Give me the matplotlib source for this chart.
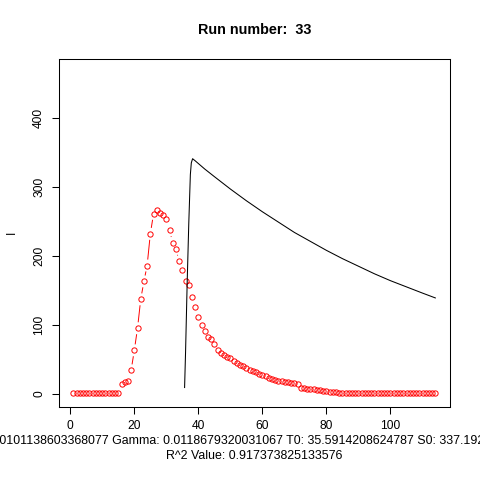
import numpy as np
import matplotlib
matplotlib.use("Agg")
import matplotlib.pyplot as plt
from matplotlib.collections import LineCollection

plt.rcParams['font.family'] = ['Liberation Sans', 'DejaVu Sans']

# ---- data ----
days = np.arange(1, 115)
observed_I = [
    1, 1, 1, 1, 1, 1, 1, 1, 1, 1, 1, 1, 1, 1, 1,
    14, 17, 19, 34, 63, 95, 137, 163, 186, 232,
    261, 267, 262, 260, 254, 237, 219, 210, 192, 180,
    164, 158, 141, 126, 112, 100, 91, 83, 79, 72,
    64, 59, 56, 54, 52, 48, 45, 42, 40, 37,
    35, 33, 31, 29, 27, 25, 23, 22, 20, 19,
    18, 17, 16.5, 16, 15, 14, 9, 8, 7.5, 7,
    7, 6, 5, 4.5, 4, 3, 2, 2, 1.5, 1,
    1, 1, 1, 1, 1, 1, 1, 1, 1, 1,
    1, 1, 1, 1, 1, 1, 1, 1, 1, 1,
    1, 1, 1, 1, 1, 1, 1, 1, 1,
]
model_t = [35.7, 36.0, 36.5, 37.0, 37.5, 37.8, 38.2, 39, 40, 42, 45, 50, 55, 60,
           65, 70, 75, 80, 85, 90, 95, 100, 105, 110, 114]
model_I = [9, 60, 160, 246, 318, 335, 341, 338, 334, 326, 315, 297, 280, 264,
           249, 234, 221, 208, 196, 185, 174, 164, 155, 146, 139]

x_ticks = [0, 20, 40, 60, 80, 100]
y_ticks = [0, 100, 200, 300, 400]
y_max = 467

title = "Run number:  33"
caption1 = ("Beta: 0.000101138603368077 Gamma: 0.0118679320031067 "
            "T0: 35.5914208624787 S0: 337.192045893471")
caption2 = "R^2 Value: 0.917373825133576"

# ---- figure ----
W = H = 480
DPI = 100
fig = plt.figure(figsize=(W / DPI, H / DPI), dpi=DPI)
L, R, T, B = 59, 449.8, 59, 406.6
ax = fig.add_axes([L / W, 1 - B / H, (R - L) / W, (B - T) / H])

fs = 12 * 72 / DPI  # 12 px text
fs_cap = 12.35 * 72 / DPI

xmin, xmax = 1, 114
xpad = 0.04 * (xmax - xmin)
ax.set_xlim(xmin - xpad, xmax + xpad)
ypad = 0.04 * y_max
ax.set_ylim(0 - ypad, y_max + ypad)

# observed points (open red circles)
ax.plot(days, observed_I, linestyle='none', marker='o', markersize=3.8,
        markerfacecolor='none', markeredgecolor='#FF0000', markeredgewidth=0.7)

# R type="b" style connecting segments with gaps around points
fig.canvas.draw()
pts = ax.transData.transform(np.column_stack([days, observed_I]))
gap = 6.0
segs = []
for (x0, y0), (x1, y1) in zip(pts[:-1], pts[1:]):
    dx, dy = x1 - x0, y1 - y0
    dist = np.hypot(dx, dy)
    if dist > 2 * gap + 0.5:
        f = gap / dist
        a = (x0 + f * dx, y0 + f * dy)
        b = (x1 - f * dx, y1 - f * dy)
        segs.append(ax.transData.inverted().transform([a, b]))
ax.add_collection(LineCollection(segs, colors='#FF0000', linewidths=0.7))

# model curve
ax.plot(model_t, model_I, color='black', linewidth=0.75)

# axes styling like R base graphics
for s in ax.spines.values():
    s.set_linewidth(0.75)
    s.set_color('black')
ax.set_xticks(x_ticks)
ax.set_yticks(y_ticks)
ax.tick_params(direction='out', length=7.2 * 72 / DPI, width=0.75,
               labelsize=fs, pad=4.75)
plt.setp(ax.get_yticklabels(), rotation=90, va='center')

# labels
fig.text(11.7 / W, 1 - ((T + B) / 2) / H, "I", rotation=90, fontsize=fs,
         ha='center', va='center')
cx = ((L + R) / 2) / W
fig.text(cx, 1 - 30 / H, title, fontsize=fs * 1.2, fontweight='bold',
         ha='center', va='center')
fig.text(cx - 10 / W, 1 - 440.7 / H, caption1, fontsize=fs_cap,
         ha='center', va='center')
fig.text(cx, 1 - 456 / H, caption2, fontsize=fs_cap, ha='center', va='center')

fig.savefig("out.png", dpi=DPI)
